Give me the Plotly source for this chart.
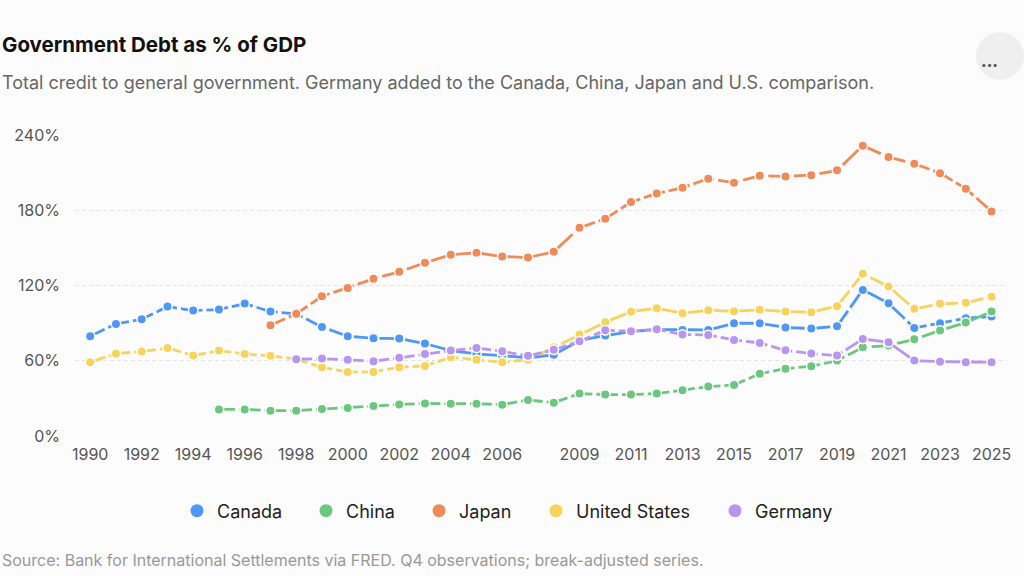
import plotly.graph_objects as go

# Government debt as % of GDP (BIS via FRED), Q4 values
years = list(range(1990, 2026))

canada = [79.5, 89.4, 93.1, 103.2, 100.0, 100.8, 105.6, 99.2, 97.4, 87.0,
          79.5, 77.9, 77.7, 73.7, 68.1, 65.4, 64.1, 62.3, 64.7, 76.1,
          80.1, 83.3, 84.9, 84.6, 84.6, 89.9, 89.9, 86.5, 85.7, 87.5,
          116.5, 105.9, 86.2, 89.9, 93.9, 95.2]
china = [None] * 5 + [21.2, 21.2, 20.2, 20.2, 21.5,
                      22.4, 23.9, 25.2, 26.0, 25.8, 25.8, 25.0, 28.7, 26.6, 33.8,
                      33.0, 33.0, 33.8, 36.4, 39.4, 40.7, 49.7, 53.7, 55.6, 60.1,
                      70.7, 72.1, 77.1, 84.1, 90.4, 99.2]
japan = [None] * 7 + [88.3, 97.4, 111.4,
                      118.1, 125.3, 130.9, 138.1, 144.5, 146.1, 143.1, 142.3, 146.9, 166.0,
                      173.2, 186.5, 193.4, 198.0, 205.2, 202.0, 207.6, 207.0, 208.0, 211.8,
                      231.5, 222.4, 217.1, 209.6, 197.2, 179.1]
united_states = [58.8, 65.7, 67.3, 70.2, 64.1, 68.1, 65.4, 63.9, 61.2, 54.8,
                 51.1, 51.1, 54.8, 55.9, 62.8, 60.7, 58.8, 60.7, 70.7, 80.9,
                 90.7, 99.0, 101.9, 97.9, 100.3, 99.5, 100.6, 99.2, 98.7, 103.5,
                 129.3, 119.2, 101.4, 105.4, 106.2, 111.0]
germany = [None] * 8 + [61.2, 61.7,
                        60.7, 59.6, 62.3, 65.4, 68.1, 70.2, 67.5, 63.9, 68.7, 75.5,
                        84.3, 83.5, 85.1, 80.9, 80.6, 76.6, 74.2, 68.3, 65.7, 64.1,
                        77.4, 74.7, 60.1, 59.3, 58.8, 58.8]

x_ticks = [1990, 1992, 1994, 1996, 1998, 2000, 2002, 2004, 2006,
           2009, 2011, 2013, 2015, 2017, 2019, 2021, 2023, 2025]
y_ticks = [0, 60, 120, 180, 240]

series = [
    ("Canada", canada, "#4f97f6"),
    ("China", china, "#6bc67e"),
    ("Japan", japan, "#f08a58"),
    ("United States", united_states, "#f8d35c"),
    ("Germany", germany, "#b895f0"),
]

FONT = "Inter, Roboto, sans-serif"
BG = "#fcfcfc"
W, H = 1024, 576
ML, MR, MT, MB = 75, 17, 135, 140
PW = W - ML - MR

fig = go.Figure()
for name, vals, color in series:
    fig.add_trace(
        go.Scatter(
            x=years,
            y=vals,
            name=name,
            mode="lines+markers",
            # dash period roughly one year step, so each gap falls between two dots
            line=dict(color=color, width=2.8, dash="16px,4px,5.7px,0px"),
            marker=dict(size=9.5, color=color, line=dict(color="white", width=1.5)),
            cliponaxis=False,
            showlegend=False,
            hoverinfo="skip",
        )
    )

# legend: one small legend per entry so the spacing follows the original
legend_dot_x = [197, 326, 439, 556, 735]
legend_layouts = {}
for i, ((name, vals, color), dot_x) in enumerate(zip(series, legend_dot_x)):
    key = "legend" if i == 0 else f"legend{i + 1}"
    fig.add_trace(
        go.Scatter(
            x=[None],
            y=[None],
            name=name,
            mode="markers",
            marker=dict(size=13, color=color),
            showlegend=True,
            legend=key,
        )
    )
    legend_layouts[key] = dict(
        orientation="h",
        x=(dot_x - 20 - ML) / PW,
        xanchor="left",
        y=(H - MB - 511) / (H - MT - MB),
        yanchor="middle",
        font=dict(size=18, color="#222", family=FONT),
        itemwidth=30,
        bgcolor="rgba(0,0,0,0)",
        borderwidth=0,
    )

fig.update_layout(
    width=W,
    height=H,
    paper_bgcolor=BG,
    plot_bgcolor=BG,
    font=dict(family=FONT, color="#555"),
    margin=dict(l=ML, r=MR, t=MT, b=MB),
    xaxis=dict(
        range=[1989.41, 2025.6],
        tickvals=x_ticks,
        ticktext=[str(t) for t in x_ticks],
        showgrid=False,
        zeroline=False,
        showline=False,
        ticks="",
        ticklabelstandoff=7,
        tickfont=dict(size=16, color="#555"),
    ),
    yaxis=dict(
        range=[0, 240],
        tickvals=y_ticks,
        ticktext=[f"{v}%" for v in y_ticks],
        showgrid=True,
        gridcolor="#e3e3e3",
        griddash="4px,3px",
        gridwidth=1,
        zeroline=False,
        showline=False,
        ticks="",
        ticklabelstandoff=14,
        tickfont=dict(size=16, color="#555"),
    ),
    hovermode=False,
    **legend_layouts,
)

fig.add_annotation(
    text="<b>Government Debt as % of GDP</b>",
    xref="paper", yref="paper", x=0, y=1, xshift=-ML, yshift=MT - 44,
    xanchor="left", yanchor="middle", showarrow=False,
    font=dict(size=20.5, color="#111", family=FONT),
)
fig.add_annotation(
    text="Total credit to general government. Germany added to the Canada, China, Japan and U.S. comparison.",
    xref="paper", yref="paper", x=0, y=1, xshift=-ML, yshift=MT - 82,
    xanchor="left", yanchor="middle", showarrow=False,
    font=dict(size=18, color="#666", family=FONT),
)
fig.add_annotation(
    text="Source: Bank for International Settlements via FRED. Q4 observations; break-adjusted series.",
    xref="paper", yref="paper", x=0, y=0, xshift=-ML, yshift=-(560 - (H - MB)),
    xanchor="left", yanchor="middle", showarrow=False,
    font=dict(size=16, color="#999", family=FONT),
)

# the round "more" button in the top-right corner
fig.add_shape(
    type="circle", xref="paper", yref="paper", xsizemode="pixel", ysizemode="pixel",
    xanchor=1, yanchor=1, x0=-31, x1=17, y0=MT - 80, y1=MT - 32,
    fillcolor="#efefef", line=dict(width=0), layer="above",
)
fig.add_annotation(
    text="•••", xref="paper", yref="paper", x=1, y=1, xshift=-7, yshift=MT - 56,
    showarrow=False, font=dict(size=10, color="#555", family=FONT),
)

fig.write_html(
    "out.html",
    config={"displayModeBar": False},
    post_script="document.body.style.margin='0px';",
)
